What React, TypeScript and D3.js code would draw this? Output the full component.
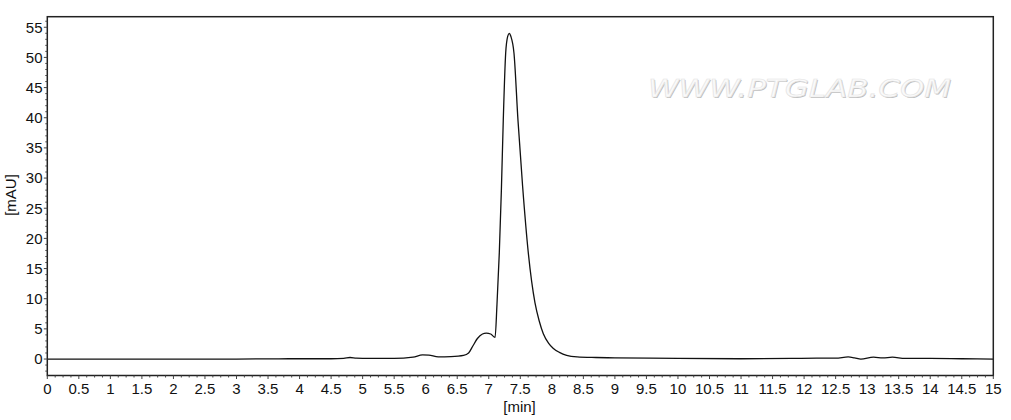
import * as d3 from "d3";
import { useEffect, useRef } from "react";

// retention time (min) and absorbance (mAU)
const times = [
  0, 1, 2, 3, 4, 4.5, 4.7, 4.8, 4.9, 5.1, 5.5, 5.8, 5.95, 6.05, 6.2, 6.4, 6.6, 6.68, 6.75,
  6.82, 6.9, 6.96, 7.03, 7.1, 7.13, 7.167, 7.2, 7.23, 7.268, 7.3, 7.325, 7.35, 7.4, 7.463,
  7.537, 7.627, 7.733, 7.8, 7.865, 7.95, 8.02, 8.12, 8.235, 8.4, 8.7, 9, 10, 11, 11.8, 12.2,
  12.5, 12.7, 12.8, 12.9, 13.1, 13.25, 13.4, 13.6, 14, 14.5, 15,
];
const absorbance = [
  0, 0, 0, 0, 0.05, 0.05, 0.1, 0.25, 0.15, 0.1, 0.1, 0.3, 0.7, 0.65, 0.35, 0.4, 0.6, 1.0, 2.2,
  3.4, 4.15, 4.3, 4.15, 3.6, 9, 17.6, 28, 39.6, 50.7, 53.5, 54.0, 53.5, 50.7, 39.6,
  28.6, 17.6, 9.3, 6.3, 4.2, 2.6, 1.8, 1.1, 0.6, 0.35, 0.25, 0.2, 0.1, 0.05, 0.1, 0.15,
  0.15, 0.35, 0.2, 0.0, 0.3, 0.2, 0.3, 0.1, 0.1, 0.05, 0,
];
const xTicks = d3.range(0, 15.01, 0.5);
const yTicks = d3.range(0, 55.01, 5);

const W = 1011;
const H = 420;
const margin = { left: 47.3, right: 1011 - 993.3, top: 16.7, bottom: 420 - 375.5 };

export default function App() {
  const ref = useRef<SVGSVGElement>(null);

  useEffect(() => {
    if (!ref.current) return;
    const svg = d3.select(ref.current);
    svg.selectAll("*").remove();

    const x = d3.scaleLinear().domain([0, 15]).range([margin.left, W - margin.right]);
    const y = d3.scaleLinear().domain([-2.73, 56.75]).range([H - margin.bottom, margin.top]);
    const font = "Liberation Sans, Arial, sans-serif";

    // watermark
    const wm = svg
      .append("g")
      .attr("font-family", "DejaVu Sans, sans-serif")
      .attr("font-style", "italic")
      .attr("font-size", 24);
    wm.append("text")
      .attr("x", 649)
      .attr("y", 98)
      .attr("textLength", 303)
      .attr("lengthAdjust", "spacingAndGlyphs")
      .attr("fill", "#bdbdbd")
      .text("WWW.PTGLAB.COM");
    wm.append("text")
      .attr("x", 648)
      .attr("y", 97)
      .attr("textLength", 303)
      .attr("lengthAdjust", "spacingAndGlyphs")
      .attr("fill", "#fafafa")
      .attr("stroke", "#e4e4e4")
      .attr("stroke-width", 0.6)
      .text("WWW.PTGLAB.COM");

    // trace
    const pts = times.map((t, i) => [t, absorbance[i]] as [number, number]);
    const line = d3
      .line<[number, number]>()
      .x((d) => x(d[0]))
      .y((d) => y(d[1]))
      .curve(d3.curveMonotoneX);
    svg.append("path")
      .attr("d", line(pts))
      .attr("fill", "none")
      .attr("stroke", "#111")
      .attr("stroke-width", 1.3)
      .attr("stroke-linejoin", "round");

    // frame
    svg.append("rect")
      .attr("x", x(0))
      .attr("y", margin.top)
      .attr("width", x(15) - x(0))
      .attr("height", H - margin.bottom - margin.top)
      .attr("fill", "none")
      .attr("stroke", "#222")
      .attr("stroke-width", 1.5);

    const yb = H - margin.bottom;

    // x ticks
    const xMinor = d3.range(0, 15.001, 0.125);
    svg.append("g")
      .selectAll("line")
      .data(xMinor)
      .join("line")
      .attr("x1", (d) => x(d))
      .attr("x2", (d) => x(d))
      .attr("y1", yb)
      .attr("y2", (d) => yb + (Math.abs(d * 2 - Math.round(d * 2)) < 1e-6 ? 3.5 : 2))
      .attr("stroke", "#444")
      .attr("stroke-width", 1);
    svg.append("g")
      .selectAll("text")
      .data(xTicks)
      .join("text")
      .attr("x", (d) => x(d))
      .attr("y", 394)
      .attr("text-anchor", "middle")
      .attr("font-family", font)
      .attr("font-size", 15)
      .attr("fill", "#111")
      .text((d) => d3.format("~g")(d));

    // y ticks
    const yMinor = d3.range(-2, 56.001, 1);
    svg.append("g")
      .selectAll("line")
      .data(yMinor)
      .join("line")
      .attr("x1", x(0))
      .attr("x2", (d) => x(0) - (d % 5 === 0 ? 3.5 : 2))
      .attr("y1", (d) => y(d))
      .attr("y2", (d) => y(d))
      .attr("stroke", "#444")
      .attr("stroke-width", 1);
    svg.append("g")
      .selectAll("text")
      .data(yTicks)
      .join("text")
      .attr("x", 42.5)
      .attr("y", (d) => y(d))
      .attr("dy", "0.36em")
      .attr("text-anchor", "end")
      .attr("font-family", font)
      .attr("font-size", 15)
      .attr("fill", "#111")
      .text((d) => d);

    // axis titles
    svg.append("text")
      .attr("transform", `translate(16,195) rotate(-90)`)
      .attr("text-anchor", "middle")
      .attr("font-family", font)
      .attr("font-size", 15)
      .attr("fill", "#111")
      .text("[mAU]");
    svg.append("text")
      .attr("x", 519.5)
      .attr("y", 411.5)
      .attr("text-anchor", "middle")
      .attr("font-family", font)
      .attr("font-size", 15)
      .attr("fill", "#111")
      .text("[min]");
  }, []);

  return (
    <svg
      ref={ref}
      width={W}
      height={H}
      style={{ position: "absolute", left: 0, top: 0, background: "#fff" }}
    />
  );
}
